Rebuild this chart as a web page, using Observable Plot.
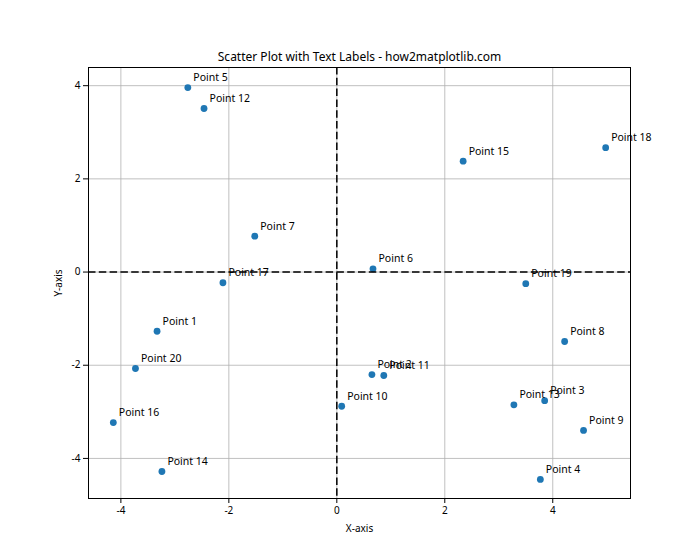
<!DOCTYPE html>
<html>
<head>
<meta charset="utf-8">
<script src="https://cdn.jsdelivr.net/npm/d3@7"></script>
<script src="https://cdn.jsdelivr.net/npm/@observablehq/plot@0.6"></script>
<style>
  body { margin: 0; background: #fff; }
  #chart { width: 700px; height: 560px; }
</style>
</head>
<body>
<div id="chart"></div>
<script>
const labels = ["Point 1","Point 2","Point 3","Point 4","Point 5","Point 6","Point 7","Point 8","Point 9","Point 10",
                "Point 11","Point 12","Point 13","Point 14","Point 15","Point 16","Point 17","Point 18","Point 19","Point 20"];
const xs = [-3.33, 0.65, 3.85, 3.77, -2.76, 0.67, -1.52, 4.22, 4.57, 0.09,
            0.87, -2.46, 3.28, -3.24, 2.34, -4.14, -2.11, 4.98, 3.50, -3.73];
const ys = [-1.27, -2.20, -2.76, -4.45, 3.96, 0.07, 0.77, -1.49, -3.40, -2.88,
            -2.22, 3.51, -2.85, -4.28, 2.38, -3.23, -0.23, 2.67, -0.25, -2.07];
const xTicks = [-4, -2, 0, 2, 4];
const yTicks = [-4, -2, 0, 2, 4];
const title = "Scatter Plot with Text Labels - how2matplotlib.com";
const xLabel = "X-axis";
const yLabel = "Y-axis";

const data = labels.map((l, i) => ({label: l, x: xs[i], y: ys[i]}));
const font = "'Noto Sans', 'Open Sans', sans-serif";

const chart = Plot.plot({
  width: 700,
  height: 560,
  marginLeft: 88,
  marginRight: 70,
  marginTop: 67,
  marginBottom: 62,
  style: {fontFamily: font, fontSize: "10px", color: "#000", background: "#fff"},
  x: {domain: [-4.6, 5.44], ticks: xTicks},
  y: {domain: [-4.86, 4.39], ticks: yTicks},
  marks: [
    Plot.gridX(xTicks, {stroke: "#b0b0b0", strokeOpacity: 1, strokeWidth: 0.8}),
    Plot.gridY(yTicks, {stroke: "#b0b0b0", strokeOpacity: 1, strokeWidth: 0.8}),
    Plot.axisX({ticks: xTicks, tickSize: 5, tickPadding: 3, tickFormat: d => d < 0 ? "-" + Math.abs(d) : String(d),
                label: xLabel, labelAnchor: "center", labelArrow: "none", labelOffset: 33, fontSize: 10}),
    Plot.axisY({ticks: yTicks, tickSize: 5, tickPadding: 3, tickFormat: d => d < 0 ? "-" + Math.abs(d) : String(d),
                label: yLabel, labelAnchor: "center", labelArrow: "none", labelOffset: 34, fontSize: 10}),
    Plot.dot(data, {x: "x", y: "y", r: 3.4, fill: "#1f77b4", stroke: "none"}),
    Plot.ruleX([0], {stroke: "#000", strokeWidth: 1.5, strokeDasharray: "7.5,3.3"}),
    Plot.ruleY([0], {stroke: "#000", strokeWidth: 1.5, strokeDasharray: "7.5,3.3"}),
    Plot.text(data, {x: "x", y: "y", text: "label", dx: 5.5, dy: -10, textAnchor: "start", fontSize: 10.5, fill: "#000"}),
    Plot.frame({stroke: "#000", strokeWidth: 1}),
    Plot.text([title], {frameAnchor: "top", dy: -15, fontSize: 12, fill: "#000", text: d => d})
  ]
});
document.getElementById("chart").appendChild(chart);
</script>
</body>
</html>
